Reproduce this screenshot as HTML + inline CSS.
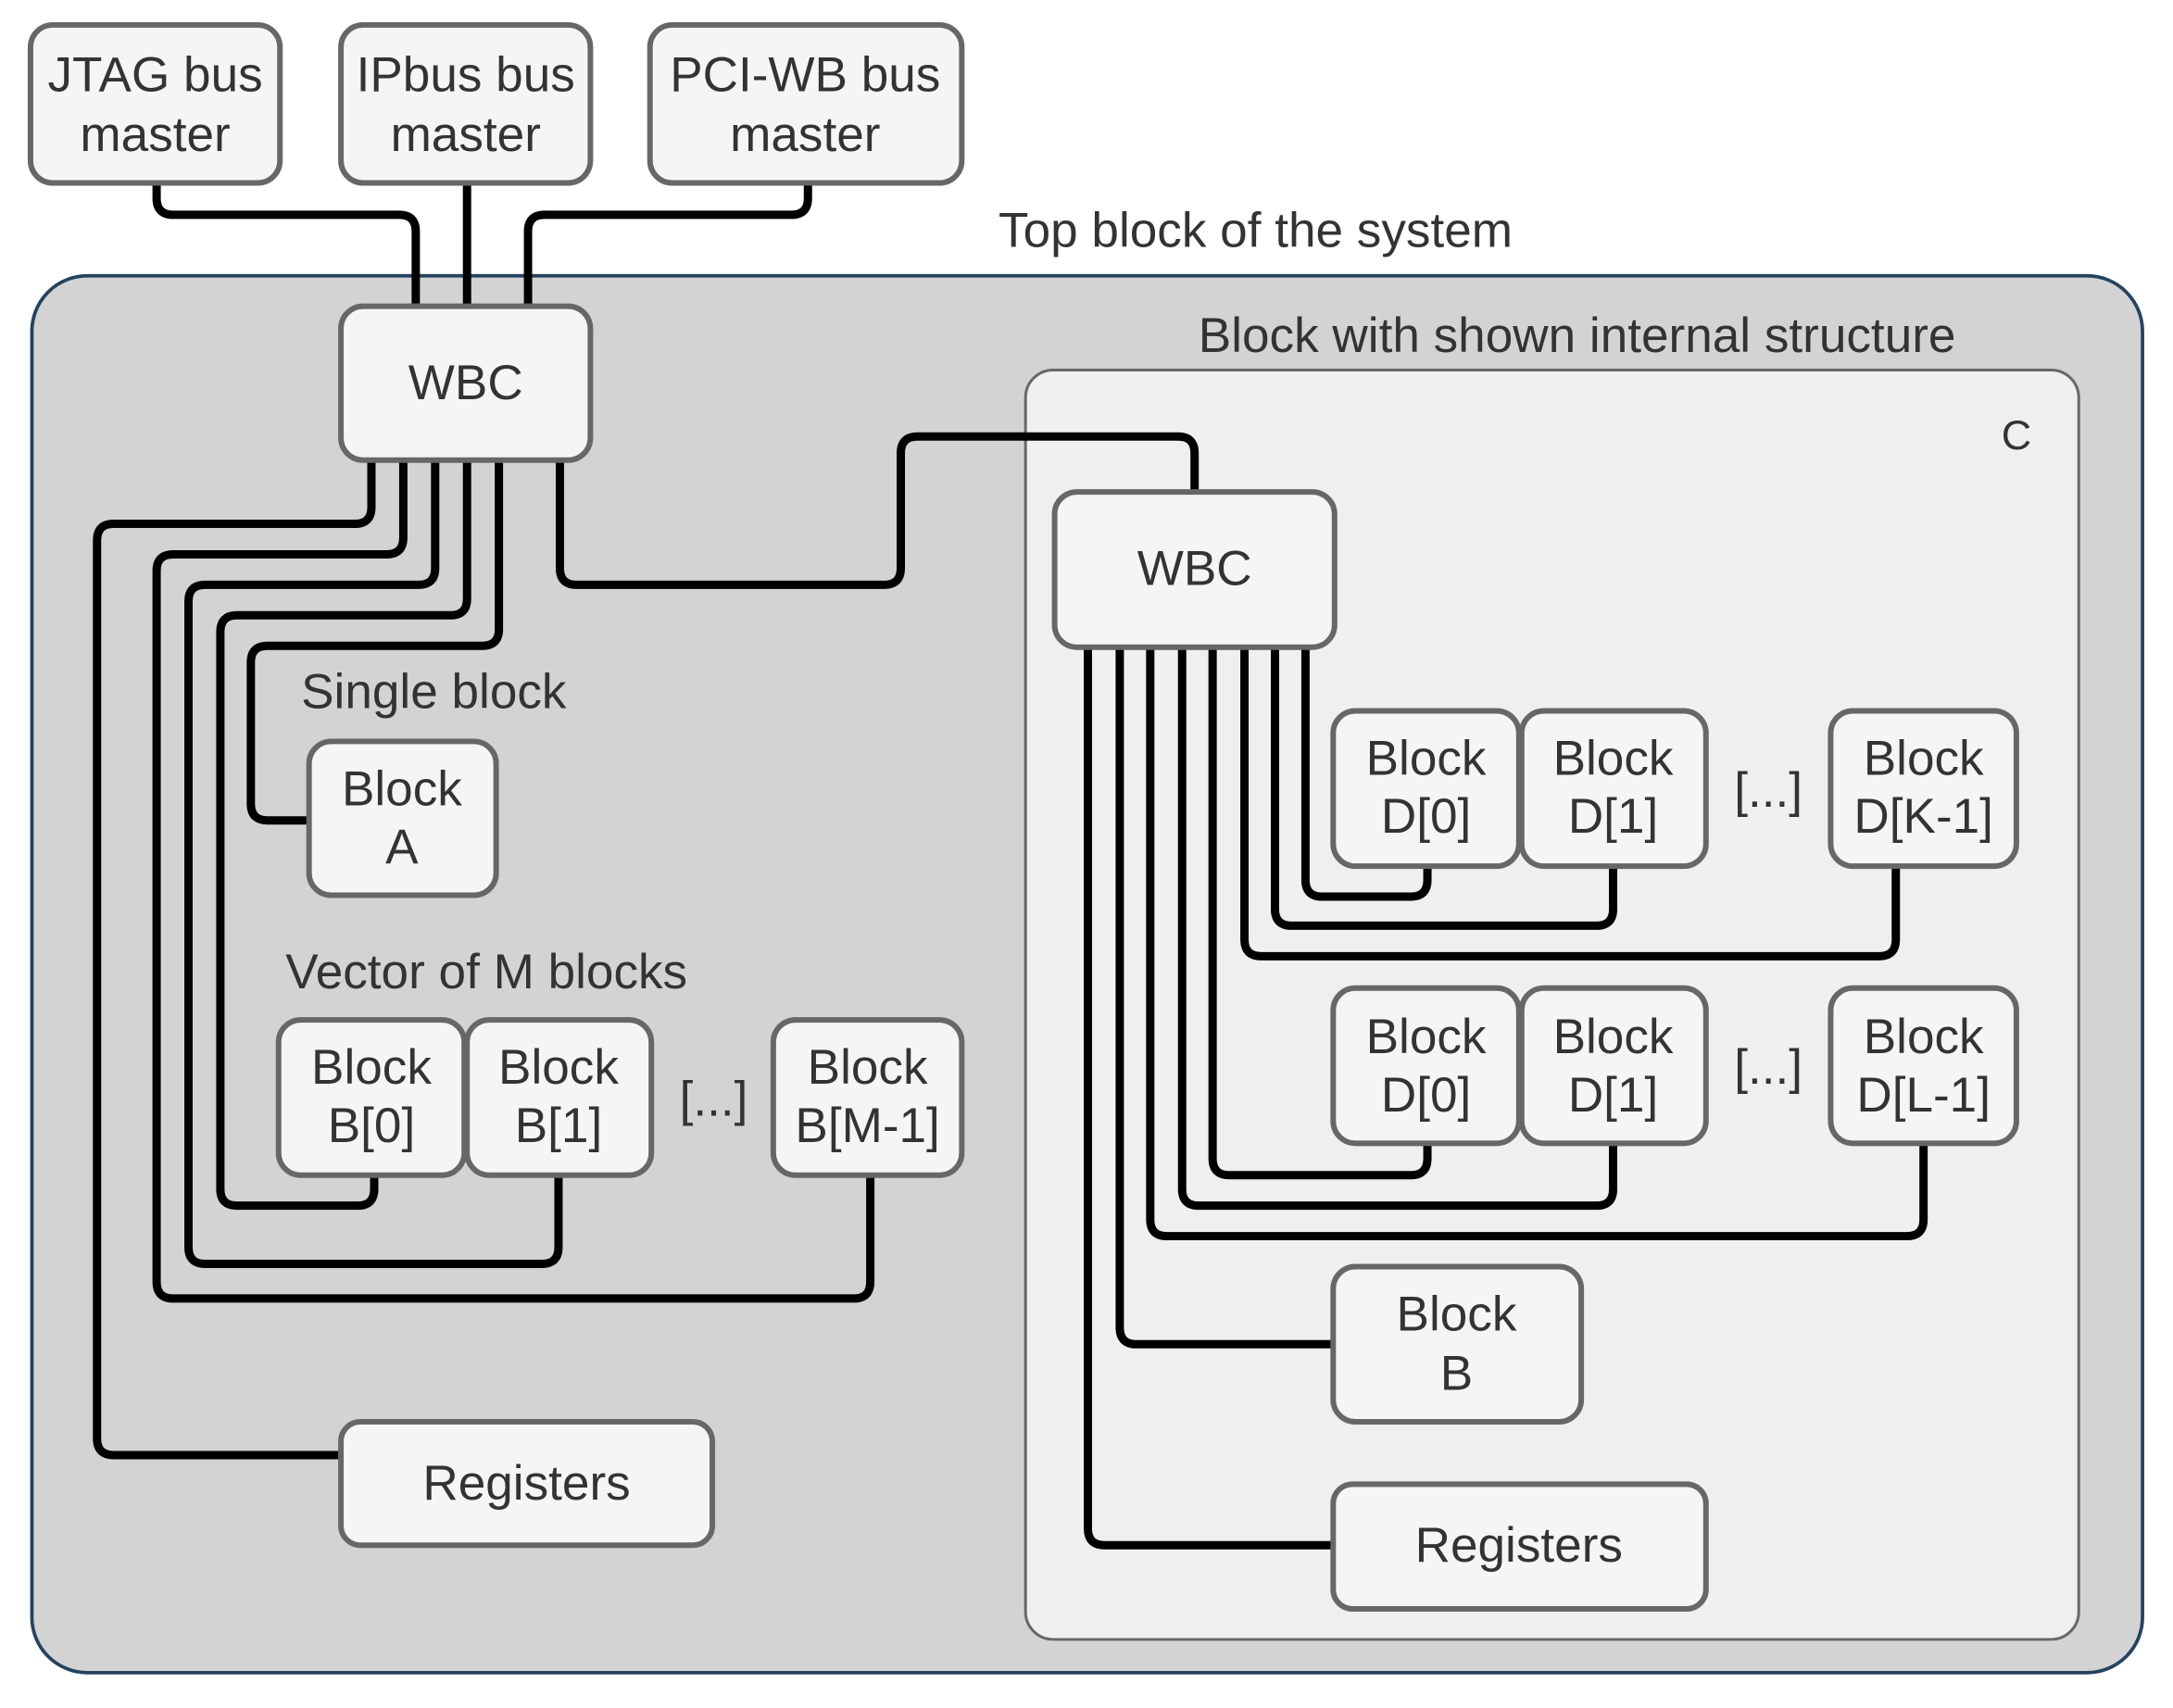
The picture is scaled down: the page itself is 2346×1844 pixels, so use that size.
<!DOCTYPE html>
<html><head><meta charset="utf-8"><style>
html,body{margin:0;padding:0;background:#fff}
svg{display:block}
text{font-family:"Liberation Sans",sans-serif;fill:#333;font-size:35.5px;text-anchor:middle}
.n{fill:#f5f5f5;stroke:#676767;stroke-width:4}
.w{fill:none;stroke:#000;stroke-width:6;stroke-linejoin:round}
</style></head><body>
<svg width="2346" height="1844" viewBox="0 0 1568 1232.5" xmlns="http://www.w3.org/2000/svg">
<rect x="0" y="0" width="1568" height="1233" fill="#fff"/>
<rect x="23" y="199" width="1523" height="1008" rx="40" fill="#d3d3d3" stroke="#24435f" stroke-width="2.5"/>
<rect x="740" y="267" width="760" height="916" rx="20" fill="#efefef" stroke="#676767" stroke-width="2"/>
<text x="906" y="178">Top block of the system</text>
<text x="1138" y="254">Block with shown internal structure</text>
<text x="1455" y="324" style="font-size:30px">C</text>
<text x="313" y="511">Single block</text>
<text x="351" y="713">Vector of M blocks</text>

<g class="w">
<path d="M113 132 V143 Q113 155 125 155 H288 Q300 155 300 167 V222"/>
<path d="M337 132 V222"/>
<path d="M583 132 V143 Q583 155 571 155 H393 Q381 155 381 167 V222"/>
<path d="M268 332 V366 Q268 378 256 378 H82 Q70 378 70 390 V1038 Q70 1050 82 1050 H246"/>
<path d="M291 332 V388 Q291 400 279 400 H125 Q113 400 113 412 V925 Q113 937 125 937 H616 Q628 937 628 925 V848"/>
<path d="M314 332 V410 Q314 422 302 422 H148 Q136 422 136 434 V900 Q136 912 148 912 H391 Q403 912 403 900 V848"/>
<path d="M337 332 V432 Q337 444 325 444 H171 Q159 444 159 456 V858 Q159 870 171 870 H258 Q270 870 270 858 V848"/>
<path d="M360 332 V454 Q360 466 348 466 H193 Q181 466 181 478 V580 Q181 592 193 592 H223"/>
<path d="M404 332 V410 Q404 422 416 422 H638 Q650 422 650 410 V327 Q650 315 662 315 H850 Q862 315 862 327 V355"/>
<path d="M942 467 V635 Q942 647 954 647 H1018 Q1030 647 1030 635 V625"/>
<path d="M920 467 V656 Q920 668 932 668 H1152 Q1164 668 1164 656 V625"/>
<path d="M898 467 V678 Q898 690 910 690 H1356 Q1368 690 1368 678 V625"/>
<path d="M875 467 V836 Q875 848 887 848 H1018 Q1030 848 1030 836 V825"/>
<path d="M853 467 V858 Q853 870 865 870 H1152 Q1164 870 1164 858 V825"/>
<path d="M830 467 V880 Q830 892 842 892 H1376 Q1388 892 1388 880 V825"/>
<path d="M808 467 V958 Q808 970 820 970 H962"/>
<path d="M785 467 V1103 Q785 1115 797 1115 H962"/>
</g>

<rect class="n" x="22" y="18" width="180" height="114" rx="16"/>
<text x="112" y="66">JTAG bus</text><text x="112" y="109">master</text>
<rect class="n" x="246" y="18" width="180" height="114" rx="16"/>
<text x="336" y="66">IPbus bus</text><text x="336" y="109">master</text>
<rect class="n" x="469" y="18" width="225" height="114" rx="16"/>
<text x="581" y="66">PCI-WB bus</text><text x="581" y="109">master</text>

<rect class="n" x="246" y="221" width="180" height="111" rx="16"/>
<text x="336" y="288">WBC</text>
<rect class="n" x="223" y="535" width="135" height="111" rx="16"/>
<text x="290" y="581">Block</text><text x="290" y="623">A</text>
<rect class="n" x="201" y="736" width="134" height="112" rx="16"/>
<text x="268" y="782">Block</text><text x="268" y="824">B[0]</text>
<rect class="n" x="337" y="736" width="133" height="112" rx="16"/>
<text x="403" y="782">Block</text><text x="403" y="824">B[1]</text>
<text x="515" y="805">[...]</text>
<rect class="n" x="558" y="736" width="136" height="112" rx="16"/>
<text x="626" y="782">Block</text><text x="626" y="824">B[M-1]</text>
<rect class="n" x="246" y="1026" width="268" height="89" rx="14"/>
<text x="380" y="1082">Registers</text>

<rect class="n" x="761" y="355" width="202" height="112" rx="16"/>
<text x="862" y="422">WBC</text>
<rect class="n" x="962" y="513" width="134" height="112" rx="16"/>
<text x="1029" y="559">Block</text><text x="1029" y="601">D[0]</text>
<rect class="n" x="1098" y="513" width="133" height="112" rx="16"/>
<text x="1164" y="559">Block</text><text x="1164" y="601">D[1]</text>
<text x="1276" y="582">[...]</text>
<rect class="n" x="1321" y="513" width="134" height="112" rx="16"/>
<text x="1388" y="559">Block</text><text x="1388" y="601">D[K-1]</text>
<rect class="n" x="962" y="713" width="134" height="112" rx="16"/>
<text x="1029" y="760">Block</text><text x="1029" y="802">D[0]</text>
<rect class="n" x="1098" y="713" width="133" height="112" rx="16"/>
<text x="1164" y="760">Block</text><text x="1164" y="802">D[1]</text>
<text x="1276" y="782">[...]</text>
<rect class="n" x="1321" y="713" width="134" height="112" rx="16"/>
<text x="1388" y="760">Block</text><text x="1388" y="802">D[L-1]</text>
<rect class="n" x="962" y="914" width="179" height="112" rx="16"/>
<text x="1051" y="960">Block</text><text x="1051" y="1003">B</text>
<rect class="n" x="962" y="1071" width="269" height="90" rx="14"/>
<text x="1096" y="1127">Registers</text>
</svg>
</body></html>
